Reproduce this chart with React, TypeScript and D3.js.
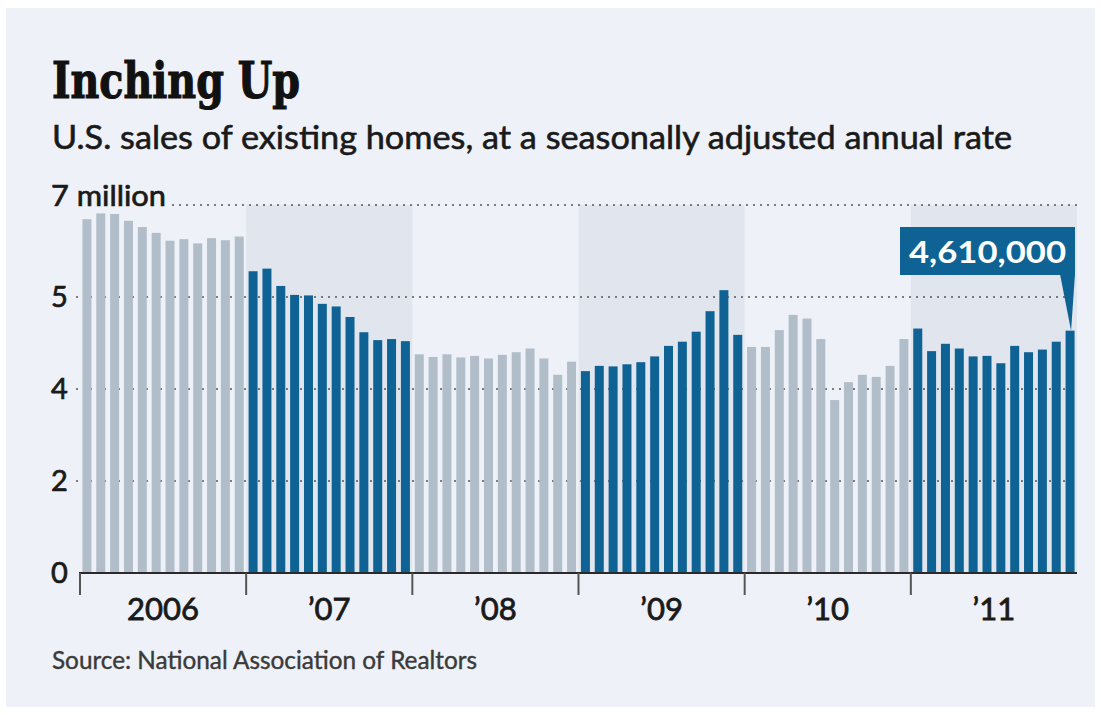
import React from "react";
import * as d3 from "d3";

// Existing-home sales, millions, seasonally adjusted annual rate
const sales2006 = [6.73, 6.84, 6.83, 6.7, 6.58, 6.47, 6.32, 6.35, 6.27, 6.37, 6.33, 6.4];
const sales2007 = [5.74, 5.79, 5.46, 5.29, 5.28, 5.12, 5.07, 4.87, 4.58, 4.43, 4.45, 4.41];
const sales2008 = [4.16, 4.11, 4.16, 4.1, 4.13, 4.08, 4.15, 4.2, 4.27, 4.08, 3.77, 4.02];
const sales2009 = [3.84, 3.94, 3.93, 3.97, 4.01, 4.12, 4.32, 4.4, 4.59, 4.98, 5.38, 4.53];
const sales2010 = [4.3, 4.3, 4.62, 4.91, 4.84, 4.45, 3.29, 3.63, 3.77, 3.73, 3.94, 4.45];
const sales2011 = [4.65, 4.22, 4.36, 4.27, 4.12, 4.13, 3.99, 4.32, 4.2, 4.25, 4.4, 4.61];

const yearLabels = ["2006", "\u201907", "\u201908", "\u201909", "\u201910", "\u201911"];
const yearSeries = [sales2006, sales2007, sales2008, sales2009, sales2010, sales2011];

// Gridline positions (values) and the labels printed at them
const gridValues = [0, 1.75, 3.5, 5.25, 7];
const gridLabels = ["0", "2", "4", "5", "7 million"];

const latestValue = 4610000;

const title = "Inching Up";
const subtitle = "U.S. sales of existing homes, at a seasonally adjusted annual rate";
const source = "Source: National Association of Realtors";

const W = 1101;
const H = 715;
const SANS = "Lato, 'Open Sans', 'DejaVu Sans', sans-serif";

const BLUE = "#0e6294";
const GREY = "#b1bdc9";
const PANEL = "#eef2f8";
const BAND = "#e1e6ee";

export default function App() {
  const months = yearSeries.flatMap((arr, yi) =>
    arr.map((v, mi) => ({ idx: yi * 12 + mi, year: yi, value: v }))
  );

  const plotLeft = 80;
  const plotRight = 1077;
  const x = d3
    .scaleBand<number>()
    .domain(months.map((d) => d.idx))
    .range([plotLeft, plotRight])
    .paddingInner(0.35)
    .paddingOuter(0.175);

  const y = d3.scaleLinear().domain([0, 7]).range([573, 205]);

  const yearX = d3
    .scaleLinear()
    .domain([0, yearLabels.length])
    .range([plotLeft, plotRight]);

  const last = months[months.length - 1];
  const lastX = (x(last.idx) as number) + x.bandwidth() / 2;
  const lastY = y(last.value);

  const boxX0 = 900;
  const boxX1 = 1075;
  const boxY0 = 227;
  const boxY1 = 275;

  const heavy = (c: string, w: number) => ({ stroke: c, strokeWidth: w });

  return (
    <svg
      width={W}
      height={H}
      style={{ position: "absolute", left: 0, top: 0, display: "block" }}
    >
      <rect x={0} y={0} width={W} height={H} fill="#ffffff" />
      <rect x={6} y={8} width={1089} height={699} fill={PANEL} />

      {/* Title block */}
      <text
        x={52}
        y={98}
        fontFamily="'DejaVu Serif', serif"
        fontWeight="bold"
        fontSize={50}
        fill="#111"
        {...heavy("#111", 1.2)}
        textLength={248}
        lengthAdjust="spacingAndGlyphs"
      >
        {title}
      </text>
      <text
        x={52}
        y={149}
        fontFamily={SANS}
        fontSize={33}
        fill="#1a1a1a"
        {...heavy("#1a1a1a", 0.6)}
        textLength={960}
        lengthAdjust="spacingAndGlyphs"
      >
        {subtitle}
      </text>

      {/* Alternate-year shaded bands */}
      {yearLabels.map((_, i) =>
        i % 2 === 1 ? (
          <rect
            key={"band" + i}
            x={yearX(i)}
            y={y(7)}
            width={yearX(i + 1) - yearX(i)}
            height={y(0) - y(7)}
            fill={BAND}
          />
        ) : null
      )}

      {/* Gridlines */}
      {gridValues.slice(1).map((v, i) => (
        <line
          key={"g" + i}
          x1={v === 7 ? 172 : 76}
          x2={plotRight}
          y1={y(v)}
          y2={y(v)}
          stroke="#555"
          strokeWidth={1.6}
          strokeDasharray="2 5"
        />
      ))}

      {/* Y labels */}
      {gridValues.map((v, i) => (
        <text
          key={"yl" + i}
          x={51}
          y={i === gridValues.length - 1 ? y(v) + 1 : y(v)}
          dy={i === gridValues.length - 1 ? 0 : "0.36em"}
          fontFamily={SANS}
          fontSize={29}
          fill="#1a1a1a"
          {...heavy("#1a1a1a", 0.7)}
          {...(i === gridValues.length - 1
            ? { textLength: 115, lengthAdjust: "spacingAndGlyphs" }
            : {})}
        >
          {gridLabels[i]}
        </text>
      ))}

      {/* Bars */}
      {months.map((d) => (
        <rect
          key={"b" + d.idx}
          x={x(d.idx)}
          y={y(d.value)}
          width={x.bandwidth()}
          height={y(0) - y(d.value)}
          fill={d.year % 2 === 1 ? BLUE : GREY}
        />
      ))}

      {/* Axis */}
      <line
        x1={plotLeft - 1}
        x2={plotRight}
        y1={y(0)}
        y2={y(0)}
        stroke="#2a2a2a"
        strokeWidth={2}
      />
      {yearLabels.map((lab, i) => (
        <g key={"yr" + i}>
          <line
            x1={yearX(i)}
            x2={yearX(i)}
            y1={y(0)}
            y2={y(0) + 22}
            stroke="#555"
            strokeWidth={2}
          />
          <text
            x={(yearX(i) + yearX(i + 1)) / 2}
            y={620}
            textAnchor="middle"
            fontFamily={SANS}
            fontSize={31}
            fill="#1a1a1a"
            {...heavy("#1a1a1a", 0.8)}
          >
            {lab}
          </text>
        </g>
      ))}

      {/* Callout for latest value */}
      <rect x={boxX0} y={boxY0} width={boxX1 - boxX0} height={boxY1 - boxY0} fill={BLUE} />
      <path
        d={`M${boxX1 - 15},${boxY1 - 1} L${boxX1},${boxY1 - 1} L${lastX + 1},${lastY} Z`}
        fill={BLUE}
      />
      <text
        x={(boxX0 + boxX1) / 2}
        y={263}
        textAnchor="middle"
        fontFamily={SANS}
        fontWeight="bold"
        fontSize={31}
        fill="#ffffff"
        textLength={157}
        lengthAdjust="spacingAndGlyphs"
      >
        {d3.format(",")(latestValue)}
      </text>

      {/* Source */}
      <text
        x={52}
        y={669}
        fontFamily={SANS}
        fontSize={25}
        fill="#3a3a3a"
        {...heavy("#3a3a3a", 0.4)}
        textLength={425}
        lengthAdjust="spacingAndGlyphs"
      >
        {source}
      </text>
    </svg>
  );
}
